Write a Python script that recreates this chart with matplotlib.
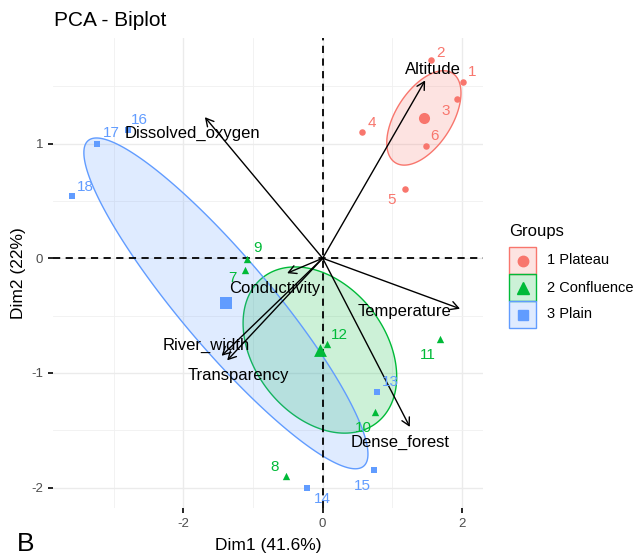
import numpy as np
import matplotlib
matplotlib.use('Agg')
import matplotlib.pyplot as plt
from matplotlib.patches import Polygon, Rectangle
from matplotlib.lines import Line2D
from matplotlib.colors import to_rgba

plt.rcParams['font.family'] = ['Liberation Sans', 'DejaVu Sans']
plt.rcParams['axes.unicode_minus'] = False

# individuals (sites) on the first two dimensions
site_id = [str(i) for i in range(1, 19)]
site_group = ['1 Plateau'] * 6 + ['2 Confluence'] * 6 + ['3 Plain'] * 6
dim1 = [2.01, 1.55, 1.93, 0.56, 1.18, 1.48,
        -1.12, -0.53, -1.08, 0.75, 1.68, 0.06,
        0.78, -0.22, 0.73, -2.79, -3.24, -3.59]
dim2 = [1.54, 1.73, 1.39, 1.10, 0.60, 0.98,
        -0.10, -1.90, -0.01, -1.34, -0.70, -0.75,
        -1.17, -2.00, -1.85, 1.12, 1.00, 0.54]

# variables (loadings, scaled for the biplot)
var_names = ['Altitude', 'Dissolved_oxygen', 'Conductivity', 'River_width',
             'Transparency', 'Temperature', 'Dense_forest']
var_dim1 = [1.47, -1.69, -0.51, -1.45, -1.37, 1.97, 1.25]
var_dim2 = [1.55, 1.23, -0.13, -0.85, -0.89, -0.44, -1.47]

group_names = ['1 Plateau', '2 Confluence', '3 Plain']
group_colors = ['#F8766D', '#00BA38', '#619CFF']
group_markers = ['o', '^', 's']

# label nudges in pixels (repel-like placement)
site_offsets = {'1': (9, 10), '2': (10, 7), '3': (-12, -12), '4': (10, 9),
                '5': (-13, -11), '6': (9, 10), '7': (-12, -8), '8': (-11, 9),
                '9': (10, 11), '10': (-12, -16), '11': (-12, -16), '12': (13, 9),
                '13': (13, 10), '14': (15, -11), '15': (-11, -16), '16': (11, 10),
                '17': (14, 11), '18': (13, 9)}
var_offsets = {'Altitude': (8, 11), 'Dissolved_oxygen': (-12, -16),
               'Conductivity': (-12, -15), 'River_width': (-15, 10),
               'Transparency': (11, -15), 'Temperature': (-55, -3),
               'Dense_forest': (-10, -16)}

W, H = 643, 558


def conf_ellipse(x, y, level=0.95, npts=240):
    # confidence ellipse around the group mean
    n = len(x)
    vals, vecs = np.linalg.eigh(np.cov(x, y))
    r = np.sqrt(-2 * np.log(1 - level) / n)
    t = np.linspace(0, 2 * np.pi, npts)
    circ = np.vstack([np.cos(t), np.sin(t)])
    pts = vecs @ (np.sqrt(vals)[:, None] * circ) * r
    return pts.T + [x.mean(), y.mean()]


fig = plt.figure(figsize=(W / 100, H / 100), dpi=100)
ax = fig.add_axes([53 / W, 50 / H, 430 / W, 470 / H])
ax.set_xlim(-3.869, 2.300)
ax.set_ylim(-2.177, 1.920)

x_all = np.array(dim1)
y_all = np.array(dim2)
grp = np.array(site_group)

for g, col in zip(group_names, group_colors):
    m = grp == g
    poly = Polygon(conf_ellipse(x_all[m], y_all[m]), closed=True,
                   facecolor=to_rgba(col, 0.2), edgecolor=col, lw=1.0, zorder=1)
    ax.add_patch(poly)

ax.axhline(0, color='black', ls=(0, (4, 3)), lw=1.3, zorder=2)
ax.axvline(0, color='black', ls=(0, (4, 3)), lw=1.3, zorder=2)

for g, col, mk in zip(group_names, group_colors, group_markers):
    m = grp == g
    gx, gy = x_all[m], y_all[m]
    ax.scatter(gx, gy, marker=mk, s=22 if mk != '^' else 28, color=col,
               linewidths=0, zorder=3)
    ax.scatter([gx.mean()], [gy.mean()], marker=mk, s=64 if mk != '^' else 85,
               color=col, linewidths=0, zorder=3)

for name, vx, vy in zip(var_names, var_dim1, var_dim2):
    ax.annotate('', xy=(vx, vy), xytext=(0, 0),
                arrowprops=dict(arrowstyle='->,head_length=0.55,head_width=0.3',
                                color='black', lw=1.0, shrinkA=0, shrinkB=0),
                zorder=4)
    ax.annotate(name, (vx, vy), xytext=var_offsets[name], textcoords='offset pixels',
                ha='center', va='center', fontsize=12, color='black', zorder=6)

for sid, g, sx, sy in zip(site_id, site_group, dim1, dim2):
    col = group_colors[group_names.index(g)]
    ax.annotate(sid, (sx, sy), xytext=site_offsets[sid], textcoords='offset pixels',
                ha='center', va='center', fontsize=11, color=col, zorder=5)

# axes styling
ax.set_xticks([-2, 0, 2])
ax.set_xticks([-3, -1, 1], minor=True)
ax.set_yticks([-2, -1, 0, 1])
ax.set_yticks([-1.5, -0.5, 0.5, 1.5], minor=True)
ax.grid(which='major', color='#EBEBEB', lw=1.0, zorder=0)
ax.grid(which='minor', color='#F0F0F0', lw=0.6, zorder=0)
ax.set_axisbelow(True)
ax.tick_params(which='major', length=3.5, width=1.2, color='black',
               labelcolor='#4D4D4D', labelsize=9.5, pad=3.5)
ax.tick_params(which='minor', length=0)
for sp in ax.spines.values():
    sp.set_visible(False)

ax.set_xlabel('Dim1 (41.6%)', fontsize=12.5)
ax.xaxis.set_label_coords(0.5, -0.079)
ax.xaxis.label.set_va('center')
ax.set_ylabel('Dim2 (22%)', fontsize=12.5)
ax.yaxis.set_label_coords(-0.081, 0.5)
ax.yaxis.label.set_va('center')

fig.text(54 / W, 1 - 21 / H, 'PCA - Biplot', fontsize=15, ha='left', va='center')
fig.text(17 / W, 2 / H, 'B', fontsize=19, ha='left', va='bottom')

# legend built by hand: stacked key boxes with the group marker inside
fig.text(509 / W, 1 - 231 / H, 'Groups', fontsize=12, ha='left', va='center')
key_x, key_top, key_size = 509, 247, 27
for i, (g, col, mk) in enumerate(zip(group_names, group_colors, group_markers)):
    top = key_top + i * key_size
    fig.add_artist(Rectangle((key_x / W, 1 - (top + key_size) / H),
                             key_size / W, key_size / H, transform=fig.transFigure,
                             facecolor=to_rgba(col, 0.2), edgecolor=col, lw=1.0))
    cx, cy = (key_x + key_size / 2) / W, 1 - (top + key_size / 2) / H
    fig.add_artist(Line2D([cx], [cy], transform=fig.transFigure, marker=mk,
                          color=col, linestyle='None',
                          markersize=7.5 if mk != '^' else 9))
    fig.text((key_x + key_size + 11) / W, cy, g, fontsize=10.5,
             ha='left', va='center')

fig.savefig('out.png', dpi=100)
